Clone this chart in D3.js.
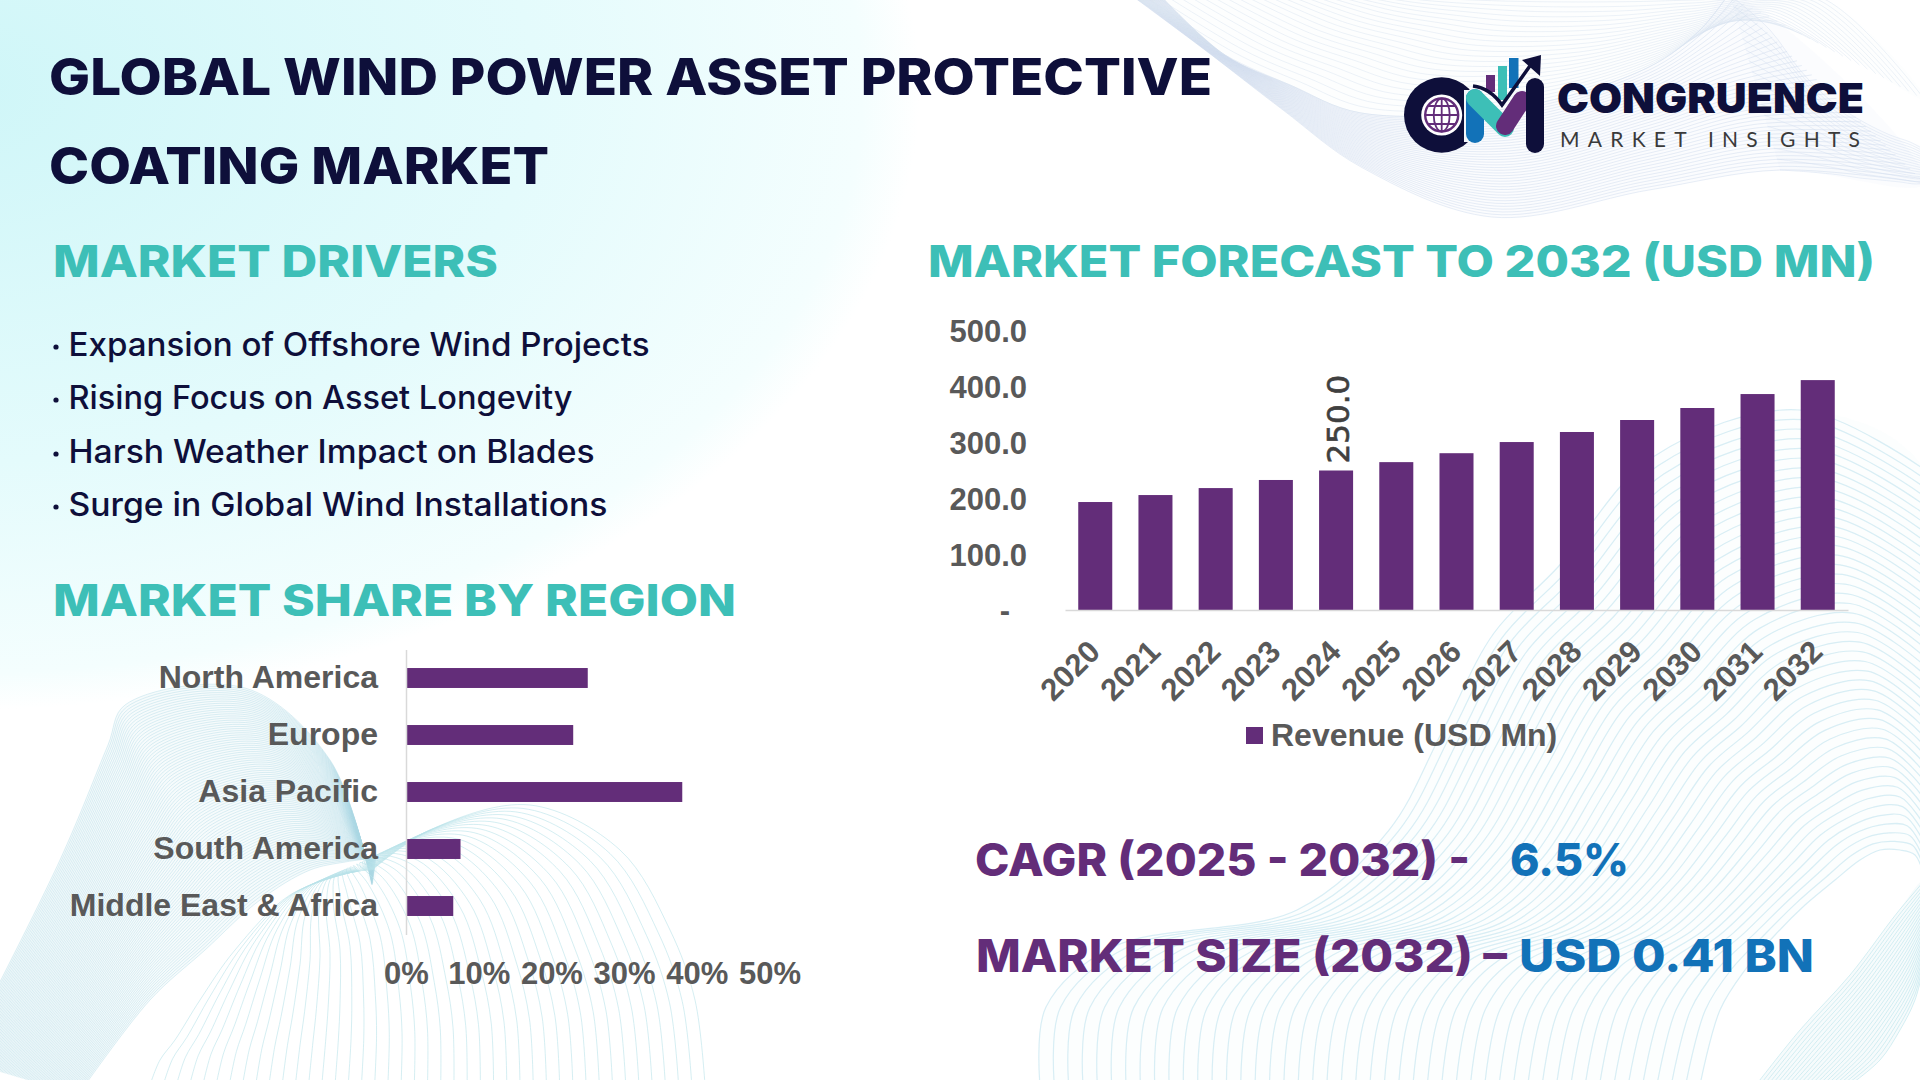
<!DOCTYPE html>
<html>
<head>
<meta charset="utf-8">
<script src="https://cdn.jsdelivr.net/npm/d3@7"></script>
<style>
    html, body { margin: 0; padding: 0; background: #fff; }
    svg { display: block; }
    .axis text { font-family: "Liberation Sans", Arial, sans-serif; font-weight: 700; font-size: 31px; fill: #595959; }
    .axis.region text { font-size: 32px; }
</style>
</head>
<body>
<div id="chart"></div>
<script>
// Data
const years = ["2020", "2021", "2022", "2023", "2024", "2025", "2026", "2027", "2028", "2029", "2030", "2031", "2032"]
const revenue = [193.5, 206, 218.5, 233, 250, 265, 281, 301, 319, 340.5, 362, 387, 412]
const revenueTicks = [0, 100, 200, 300, 400, 500]
const labelledYear = "2024"
const legendLabel = "Revenue (USD Mn)"

const regions = ["North America", "Europe", "Asia Pacific", "South America", "Middle East & Africa"]
const regionShare = [25, 23, 38, 7.5, 6.5]
const shareTicks = [0, 10, 20, 30, 40, 50]

const drivers = [
    "Expansion of Offshore Wind Projects",
    "Rising Focus on Asset Longevity",
    "Harsh Weather Impact on Blades",
    "Surge in Global Wind Installations"
]

const navy = "#0e0f3a", teal = "#3dbfb7", purple = "#632d79", blue = "#1272b8"
const headFont = "Inter, 'Noto Sans', sans-serif"

const svg = d3.select("#chart")
    .append("svg")
    .attr("width", 1920)
    .attr("height", 1080)

// ------------------------------- //
// Background
// ------------------------------- //
const defs = svg.append("defs")
const glow = defs.append("radialGradient")
    .attr("id", "glow")
    .attr("gradientUnits", "userSpaceOnUse")
    .attr("cx", 0).attr("cy", 0).attr("r", 1)
    .attr("gradientTransform", "translate(-40,90) scale(960,620)")
glow.append("stop").attr("offset", "0").attr("stop-color", "#cff6f8")
glow.append("stop").attr("offset", "0.6").attr("stop-color", "#e4fbfc")
glow.append("stop").attr("offset", "0.94").attr("stop-color", "#f4fefe")
glow.append("stop").attr("offset", "1").attr("stop-color", "#ffffff")

svg.append("rect").attr("width", 1920).attr("height", 1080).attr("fill", "#fff")
svg.append("rect").attr("width", 1920).attr("height", 1080).attr("fill", "url(#glow)")

const waveLine = d3.line().curve(d3.curveCatmullRom.alpha(0.5))

// draws n lines blended between two guide curves, over a soft tint
function ribbon(from, to, n, color, opacity, width, tint) {
    const g = svg.append("g")
        .attr("fill", "none")
        .attr("stroke", color)
        .attr("stroke-opacity", opacity)
        .attr("stroke-width", width)
    if (tint) {
        g.append("path")
            .attr("d", waveLine(from.concat(to.slice().reverse())) + "Z")
            .attr("fill", color)
            .attr("fill-opacity", tint)
            .attr("stroke", "none")
    }
    for (let i = 0; i <= n; i++) {
        const t = i / n
        g.append("path").attr("d", waveLine(from.map((p, k) => [
            p[0] + (to[k][0] - p[0]) * t,
            p[1] + (to[k][1] - p[1]) * t
        ])))
    }
}

// top right
ribbon([[1131, -5], [1205, 50], [1283, 110], [1361, 167], [1492, 217], [1649, 190], [1780, 170], [1925, 183]],
    [[1160, -5], [1225, 55], [1290, 85], [1361, 113], [1518, 107], [1649, 67], [1700, 30], [1728, -5]],
    40, "#d0dcee", 0.5, 1, 0.08)
ribbon([[1131, -5], [1225, 55], [1290, 85], [1361, 113], [1518, 107], [1649, 67], [1700, 30], [1728, -5]],
    [[1400, -5], [1450, -4], [1500, -3], [1560, -3], [1640, -3], [1700, -3], [1820, -3], [1925, 100]],
    24, "#d8e2f0", 0.45, 1, 0.04)
ribbon([[1780, 170], [1810, 172], [1840, 175], [1860, 178], [1880, 180], [1900, 182], [1915, 184], [1925, 183]],
    [[1730, -5], [1770, 30], [1800, 70], [1830, 100], [1860, 120], [1890, 135], [1910, 142], [1925, 150]],
    16, "#d3deef", 0.45, 1, 0.06)

// bottom left
ribbon([[-40, 1060], [60, 860], [108, 745], [125, 705], [245, 688], [330, 760], [372, 885]],
    [[78, 1095], [150, 1000], [205, 950], [260, 900], [310, 870], [345, 862], [376, 858]],
    90, "#a9d6e3", 0.4, 1, 0.1)
ribbon([[372, 870], [430, 830], [530, 805], [620, 850], [670, 930], [695, 1000], [705, 1085]],
    [[352, 872], [290, 895], [235, 950], [200, 1000], [175, 1040], [160, 1060], [150, 1085]],
    42, "#b9e3ea", 0.6, 1)

// bottom right
ribbon([[1040, 1085], [1046, 1007], [1113, 947], [1297, 910], [1389, 830], [1443, 730], [1494, 633], [1558, 567], [1653, 457], [1800, 410], [1925, 470]],
    [[1700, 1085], [1720, 1010], [1745, 970], [1775, 935], [1805, 905], [1835, 880], [1860, 860], [1880, 850], [1900, 850], [1915, 855], [1925, 880]],
    46, "#bfe3ee", 0.6, 1.2, 0.05)
ribbon([[1756, 1085], [1800, 1030], [1850, 975], [1897, 913], [1925, 880]],
    [[1850, 1085], [1880, 1060], [1900, 1030], [1915, 1000], [1925, 960]],
    24, "#b5e2ea", 0.55, 1, 0.12)

// ------------------------------- //
// Headings and text
// ------------------------------- //
function label(str, x, y, length, size, weight, color, g) {
    return (g || svg).append("text")
        .attr("x", x)
        .attr("y", y)
        .attr("textLength", length)
        .attr("lengthAdjust", "spacingAndGlyphs")
        .attr("font-family", headFont)
        .attr("font-size", size)
        .attr("font-weight", weight)
        .attr("fill", color)
        .text(str)
}

label("GLOBAL WIND POWER ASSET PROTECTIVE", 49, 95, 1163, 51, 800, navy)
label("COATING MARKET", 49, 184, 500, 51, 800, navy)
label("MARKET DRIVERS", 53, 277, 445, 44, 800, teal)
label("MARKET FORECAST TO 2032 (USD MN)", 928, 277, 947, 44, 800, teal)
label("MARKET SHARE BY REGION", 53, 616, 683, 44, 800, teal)

const driverLengths = [581, 504, 526, 539]
const driverBase = [356, 409, 463, 516]
drivers.forEach(function (d, i) {
    svg.append("circle").attr("cx", 56).attr("cy", driverBase[i] - 9).attr("r", 2.6).attr("fill", navy)
    label(d, 68.5, driverBase[i], driverLengths[i], 32, 500, navy)
})

label("CAGR (2025 - 2032) -", 975, 876, 495, 45, 800, purple)
label("6.5%", 1510, 876, 119, 45, 800, blue)
label("MARKET SIZE (2032) \u2013", 976, 972, 531, 45, 800, purple)
label("USD 0.41 BN", 1519, 972, 295, 45, 800, blue)

// ------------------------------- //
// Forecast bars
// ------------------------------- //
const x = d3.scaleBand().domain(years).range([1065, 1848]).paddingInner(0.435).paddingOuter(0.22)
const y = d3.scaleLinear().domain([0, 500]).range([610, 331])

svg.append("g")
    .attr("fill", purple)
    .selectAll("rect")
    .data(years)
    .enter()
    .append("rect")
    .attr("x", d => x(d))
    .attr("y", (d, i) => y(revenue[i]))
    .attr("width", x.bandwidth())
    .attr("height", (d, i) => y(0) - y(revenue[i]))

const yAxis = svg.append("g")
    .attr("class", "axis")
    .attr("transform", "translate(1064,1)")
    .call(d3.axisLeft(y).tickValues(revenueTicks).tickSize(0).tickPadding(37)
        .tickFormat(d => d === 0 ? "-" : d3.format(".1f")(d)))
yAxis.select(".domain").remove()
yAxis.selectAll(".tick").filter(d => d === 0).select("text").attr("dx", -17)

const xAxis = svg.append("g")
    .attr("class", "axis")
    .attr("transform", "translate(0,610)")
    .call(d3.axisBottom(x).tickSize(0))
xAxis.select(".domain").attr("stroke", "#d9d9d9").attr("stroke-width", 1.5)
xAxis.selectAll("text")
    .attr("x", 0).attr("y", 0).attr("dy", "0.35em")
    .attr("text-anchor", "end")
    .attr("transform", "translate(-1,36) rotate(-45)")

// the one labelled bar
const labelIdx = years.indexOf(labelledYear)
svg.append("text")
    .attr("transform", "translate(" + (x(labelledYear) + x.bandwidth() / 2 + 13) + "," + (y(revenue[labelIdx]) - 7) + ") rotate(-90)")
    .attr("font-family", "'DejaVu Sans', sans-serif")
    .attr("font-size", 31)
    .attr("fill", "#404040")
    .attr("stroke", "#404040")
    .attr("stroke-width", 0.6)
    .text(d3.format(".1f")(revenue[labelIdx]))

// legend
svg.append("rect").attr("x", 1246).attr("y", 727).attr("width", 17).attr("height", 17).attr("fill", purple)
svg.append("text")
    .attr("class", "legend")
    .attr("x", 1271)
    .attr("y", 746)
    .attr("font-family", "'Liberation Sans', Arial, sans-serif")
    .attr("font-weight", 700)
    .attr("font-size", 32)
    .attr("fill", "#595959")
    .text(legendLabel)

// ------------------------------- //
// Region bars
// ------------------------------- //
const xShare = d3.scaleLinear().domain([0, 50]).range([406, 769.5])
const yRegion = d3.scaleBand().domain(regions).range([649.5, 934.5]).paddingInner(0.65).paddingOuter(0.325)

svg.append("g")
    .attr("fill", purple)
    .selectAll("rect")
    .data(regions)
    .enter()
    .append("rect")
    .attr("x", xShare(0))
    .attr("y", d => yRegion(d))
    .attr("width", (d, i) => xShare(regionShare[i]) - xShare(0))
    .attr("height", yRegion.bandwidth())

const regionAxis = svg.append("g")
    .attr("class", "axis region")
    .attr("transform", "translate(406,0)")
    .call(d3.axisLeft(yRegion).tickSize(0).tickPadding(28))
regionAxis.select(".domain").attr("stroke", "#d9d9d9").attr("stroke-width", 1.5)

const shareAxis = svg.append("g")
    .attr("class", "axis")
    .attr("transform", "translate(0,935)")
    .call(d3.axisBottom(xShare).tickValues(shareTicks).tickSize(0).tickPadding(27)
        .tickFormat(d => d + "%"))
shareAxis.select(".domain").remove()

// ------------------------------- //
// Logo
// ------------------------------- //
const logo = svg.append("g")
logo.append("circle").attr("cx", 1441.7).attr("cy", 115).attr("r", 37.7).attr("fill", navy)
logo.append("circle").attr("cx", 1441.7).attr("cy", 115).attr("r", 20.5).attr("fill", "#fff")
logo.append("rect").attr("x", 1464).attr("y", 90).attr("width", 18).attr("height", 52).attr("fill", "#f4f8fb")
const globe = logo.append("g").attr("fill", "none").attr("stroke", purple).attr("stroke-width", 1.8)
globe.append("circle").attr("cx", 1441.7).attr("cy", 115).attr("r", 16.5).attr("stroke-width", 2.4)
globe.append("ellipse").attr("cx", 1441.7).attr("cy", 115).attr("rx", 8).attr("ry", 16.5)
globe.append("path").attr("d", "M1441.7,98.5V131.5M1425.2,115H1458.2M1428,106H1456M1428,124H1456")

const roundBar = (path, color, width) => logo.append("path").attr("d", path)
    .attr("fill", "none").attr("stroke", color).attr("stroke-width", width).attr("stroke-linecap", "round")
logo.append("rect").attr("x", 1486).attr("y", 75).attr("width", 9).attr("height", 17).attr("fill", purple)
logo.append("rect").attr("x", 1498).attr("y", 66).attr("width", 9).attr("height", 34).attr("fill", teal)
logo.append("rect").attr("x", 1509).attr("y", 58).attr("width", 9.5).attr("height", 30).attr("fill", blue)
roundBar("M1475,98V134", blue, 18)
roundBar("M1475,98L1505,128", teal, 18)
roundBar("M1505,126L1522,100", purple, 18)
roundBar("M1535,87V144", navy, 18)
logo.append("path").attr("d", "M1473,86Q1490,88 1502,105L1532,63").attr("fill", "none").attr("stroke", navy).attr("stroke-width", 3.5)
logo.append("path").attr("d", "M1522,60L1541,55L1540,76Z").attr("fill", navy)

label("CONGRUENCE", 1557, 113, 307, 41, 900, navy)
svg.append("text")
    .attr("x", 1560)
    .attr("y", 147)
    .attr("textLength", 300)
    .attr("lengthAdjust", "spacing")
    .attr("font-family", "Lato, sans-serif")
    .attr("font-size", 21)
    .attr("fill", "#3a3a3a")
    .text("MARKET INSIGHTS")
</script>
</body>
</html>
